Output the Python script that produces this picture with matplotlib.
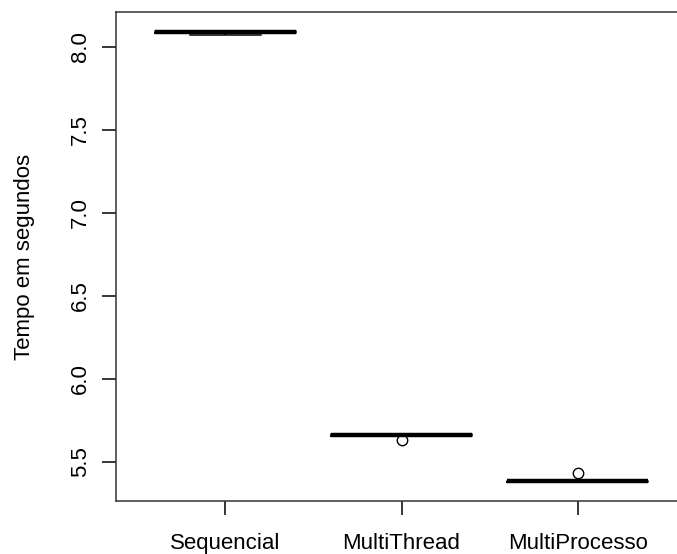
import matplotlib
matplotlib.use('Agg')
import matplotlib.pyplot as plt

categories = ['Sequencial', 'MultiThread', 'MultiProcesso']
whis_lo = [8.071, 5.655, 5.378]
q1 = [8.084, 5.658, 5.381]
medians = [8.090, 5.662, 5.385]
q3 = [8.096, 5.666, 5.388]
whis_hi = [8.098, 5.668, 5.390]
outliers = [[], [5.633], [5.436]]

y_ticks = [5.5, 6.0, 6.5, 7.0, 7.5, 8.0]

plt.rcParams['font.family'] = ['Liberation Sans', 'DejaVu Sans']

stats = []
for i, name in enumerate(categories):
    stats.append({'label': name, 'whislo': whis_lo[i], 'q1': q1[i], 'med': medians[i],
                  'q3': q3[i], 'whishi': whis_hi[i], 'fliers': outliers[i]})

fig = plt.figure(figsize=(6.77, 5.54), dpi=100)
# plot region runs past the right edge of the picture, like the original
ax = fig.add_axes([116 / 677, 53 / 554, 571 / 677, 489 / 554])

ax.bxp(stats, positions=[1, 2, 3], widths=0.8, showcaps=True,
       boxprops=dict(color='black', linewidth=1.1),
       medianprops=dict(color='black', linewidth=3.2, solid_capstyle='butt'),
       whiskerprops=dict(color='black', linewidth=1.1, linestyle='--'),
       capprops=dict(color='black', linewidth=1.1),
       flierprops=dict(marker='o', markerfacecolor='none', markeredgecolor='black',
                       markersize=7.5, markeredgewidth=1.0))

ax.set_xlim(0.38, 3.62)
ax.set_ylim(5.265, 8.211)
ax.set_yticks(y_ticks)
ax.set_yticklabels(['%.1f' % v for v in y_ticks], rotation=90, va='center')
ax.set_xticks([1, 2, 3])
ax.set_xticklabels(categories)
ax.tick_params(axis='both', labelsize=16, length=10, width=1.1, color='black')
ax.tick_params(axis='y', pad=8)
ax.tick_params(axis='x', pad=13)
ax.set_ylabel('Tempo em segundos', fontsize=16, labelpad=25)

for s in ax.spines.values():
    s.set_linewidth(1.1)
    s.set_color('#333333')
ax.spines['right'].set_visible(False)

fig.savefig('out.png', dpi=100)
